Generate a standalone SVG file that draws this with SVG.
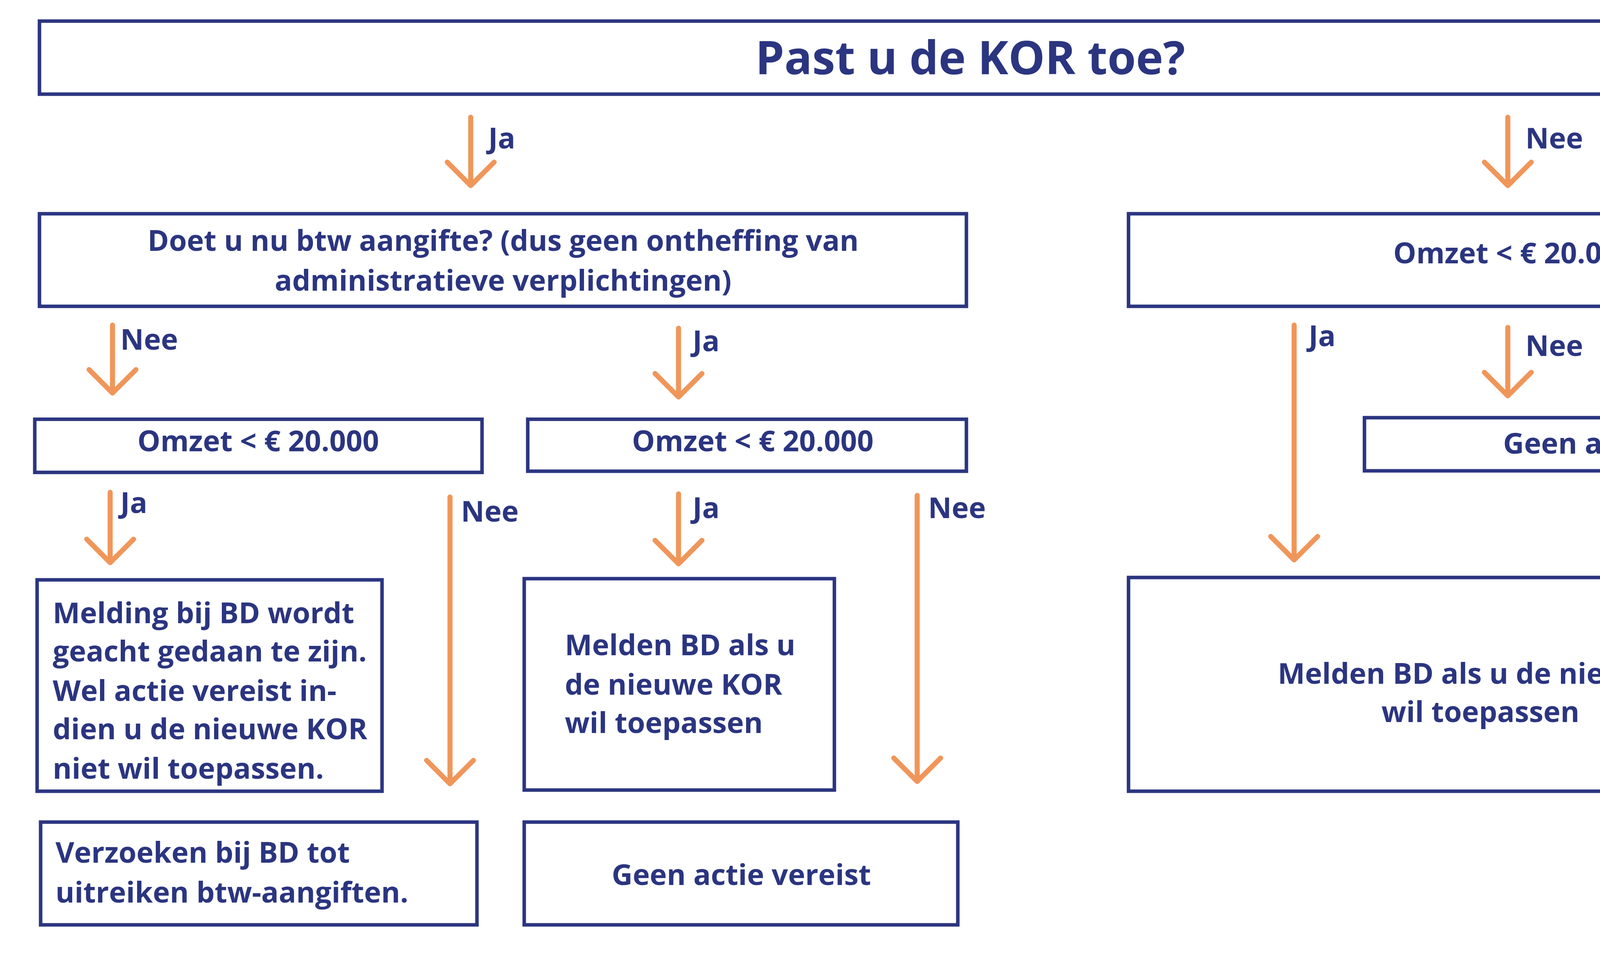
<svg xmlns="http://www.w3.org/2000/svg" width="4961" height="2480" viewBox="0 0 4961 2480">
<style>
.b{fill:#fff;stroke:#2b3580;stroke-width:9}
.t{font-family:"Open Sans","Noto Sans",sans-serif;font-weight:700;fill:#2b3580;font-size:74px}
.c{text-anchor:middle}
.a{fill:none;stroke:#f0965a;stroke-width:13;stroke-linecap:round;stroke-linejoin:round}
</style>
<rect width="4961" height="2480" fill="#fff"/>
<g id="n-title"><rect class="b" x="101" y="54" width="4762" height="187"/><text class="t c" x="2484" y="190" style="font-size:118px">Past u de KOR toe?</text></g>
<g id="n-doet"><rect class="b" x="101" y="547" width="2373" height="237"/><text class="t c" x="1288" y="642">Doet u nu btw aangifte? (dus geen ontheffing van</text><text class="t c" x="1288" y="744">administratieve verplichtingen)</text></g>
<g id="n-omzet-r"><rect class="b" x="2889" y="547" width="1977" height="237"/><text class="t c" x="3876" y="674">Omzet &lt; € 20.000</text></g>
<g id="n-omzet-l"><rect class="b" x="89" y="1073" width="1145" height="136"/><text class="t c" x="661" y="1155">Omzet &lt; € 20.000</text></g>
<g id="n-omzet-m"><rect class="b" x="1351" y="1073" width="1123" height="133"/><text class="t c" x="1927" y="1155">Omzet &lt; € 20.000</text></g>
<g id="n-geen-r"><rect class="b" x="3493" y="1069" width="1373" height="136"/><text class="t c" x="4180" y="1161">Geen actie vereist</text></g>
<g id="n-melding"><rect class="b" x="95" y="1484" width="883" height="541"/>
<text class="t" x="135" y="1595">Melding bij BD wordt</text><text class="t" x="135" y="1693">geacht gedaan te zijn.</text><text class="t" x="135" y="1794">Wel actie vereist in-</text><text class="t" x="135" y="1892">dien u de nieuwe KOR</text><text class="t" x="135" y="1993">niet wil toepassen.</text></g>
<g id="n-melden-m"><rect class="b" x="1342" y="1481" width="794" height="541"/><text class="t" x="1446" y="1677">Melden BD als u</text><text class="t" x="1446" y="1778">de nieuwe KOR</text><text class="t" x="1446" y="1876">wil toepassen</text></g>
<g id="n-melden-r"><rect class="b" x="2889" y="1478" width="1977" height="547"/><text class="t c" x="3854" y="1750">Melden BD als u de nieuwe KOR</text><text class="t c" x="3790" y="1848">wil toepassen</text></g>
<g id="n-verzoeken"><rect class="b" x="104" y="2104" width="1117" height="263"/><text class="t" x="142" y="2208">Verzoeken bij BD tot</text><text class="t" x="142" y="2310">uitreiken btw-aangiften.</text></g>
<g id="n-geen-m"><rect class="b" x="1342" y="2104" width="1110" height="263"/><text class="t c" x="1898" y="2265">Geen actie vereist</text></g>
<g id="connectors">
<path class="a" d="M1205 300V475M1145 415L1205 475L1265 415"/>
<path class="a" d="M3860 300V475M3800 415L3860 475L3920 415"/>
<path class="a" d="M288 832V1006M228 946L288 1006L348 946"/>
<path class="a" d="M1737 840V1016M1677 956L1737 1016L1797 956"/>
<path class="a" d="M3313 832V1433M3253 1373L3313 1433L3373 1373"/>
<path class="a" d="M3860 838V1013M3800 953L3860 1013L3920 953"/>
<path class="a" d="M282 1260V1440M222 1380L282 1440L342 1380"/>
<path class="a" d="M1152 1272V2006M1092 1946L1152 2006L1212 1946"/>
<path class="a" d="M1737 1264V1443M1677 1383L1737 1443L1797 1383"/>
<path class="a" d="M2348 1268V2000M2288 1940L2348 2000L2408 1940"/>
<text class="t" x="1250" y="380">Ja</text>
<text class="t" x="3905" y="380">Nee</text>
<text class="t" x="308" y="895">Nee</text>
<text class="t" x="1773" y="899">Ja</text>
<text class="t" x="3350" y="886">Ja</text>
<text class="t" x="3905" y="911">Nee</text>
<text class="t" x="308" y="1313">Ja</text>
<text class="t" x="1180" y="1335">Nee</text>
<text class="t" x="1773" y="1326">Ja</text>
<text class="t" x="2376" y="1326">Nee</text>
</g>
</svg>
